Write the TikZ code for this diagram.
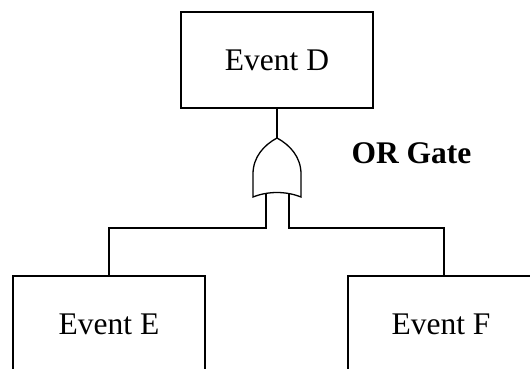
\documentclass[tikz,border=0pt]{standalone}
\usepackage{fontspec}
\setmainfont{Liberation Serif}
\tikzset{
  evento/.style={draw, line width=1.3pt, minimum width=192pt, minimum height=96pt,
    inner sep=0pt, font=\fontsize{31.5}{36}\selectfont},
  linea/.style={line width=1.3pt}
}
\begin{document}
\begin{tikzpicture}[x=1pt,y=-1pt]
    		%marco
    		\useasboundingbox (0,0) rectangle (530,369);
    		\clip (0,0) rectangle (530,369);
  		%%%% CAJAS!!!
  		\node[evento] at (277,60) (eventD) {Event D};
  		\node[evento] at (109,324) (eventE) {Event E};
  		\node[evento] at (444,324) (eventF) {};
  		\node[font=\fontsize{31.5}{36}\selectfont] at (441,324) (textF) {Event F};
  		%%%PUERTA OR
  		\coordinate (tip) at (277,138);
  		\coordinate (legL) at (266,194);
  		\coordinate (legR) at (289,194);
  		\coordinate (cornerL) at (109,228);
  		\coordinate (cornerR) at (444,228);
  		%%%DIBUJO PUERTA
  		\draw[linea, line join=miter] (tip) .. controls (264,145) and (253,157) .. (253,174)
  		  -- (253,197) .. controls (268,191) and (286,191) .. (301,197)
  		  -- (301,174) .. controls (301,157) and (290,145) .. (tip) -- cycle;
  		\draw[linea] (eventD) -- (tip);
  		\draw[linea] (legL) |- (cornerL) -- (eventE.north);
  		\draw[linea] (legR) |- (cornerR) -- (eventF.north);
  		\node[anchor=base west, font=\fontsize{31.5}{36}\selectfont\bfseries] at (348,163) (orgate) {OR Gate};
\end{tikzpicture}
\end{document}
